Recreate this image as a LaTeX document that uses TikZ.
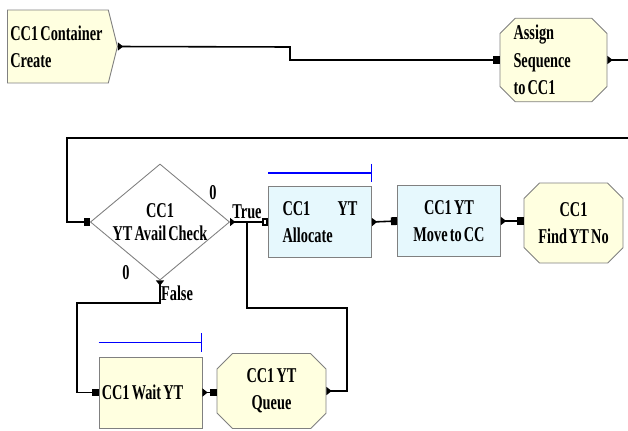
\documentclass[tikz,border=0pt]{standalone}
\usepackage{fontspec}
\setmainfont{Liberation Serif}[FakeStretch=0.68, WordSpace=0.6]
\usetikzlibrary{arrows.meta, shapes.geometric, shapes.misc, shapes.symbols}
\definecolor{boxyellow}{HTML}{FFFFE0}
\definecolor{boxblue}{HTML}{E6F8FD}
\definecolor{boxline}{HTML}{808080}

\begin{document}
\begin{tikzpicture}[x=0.02cm, y=-0.02cm,
    blk/.style={draw=boxline, line width=0.5pt, inner sep=1pt,
                font=\bfseries\fontsize{12}{15.5}\selectfont},
    actbox/.style={blk, rectangle, fill=boxblue,
                   minimum width=2.06cm, minimum height=1.42cm},
    octbox/.style={blk, chamfered rectangle, chamfered rectangle xsep=0.2cm,
                   fill=boxyellow},
    lbl/.style={font=\bfseries\fontsize{12}{13}\selectfont, inner sep=0pt},
    flow/.style={line width=0.9pt,
                 arrows={Triangle[reversed, length=3pt, width=4.5pt]-Square[length=3.5pt, width=4.5pt]}},
    plainflow/.style={line width=0.9pt},
    timebar/.style={blue, line width=0.8pt, arrows={-Bar[width=0.37cm]}}
  ]
  \useasboundingbox (0,0) rectangle (628,430);

  % blocks
  \node[blk, signal, signal to=east, signal pointer angle=152, fill=boxyellow,
        minimum width=2.2cm, minimum height=1.46cm, text width=1.9cm,
        align=flush left, anchor=west] (create) at (7,46.5) {CC1 Container\\Create};
  \node[octbox, minimum width=2.14cm, minimum height=1.6cm, text width=1.6cm,
        align=flush left] (assign) at (553.5,60) {Assign\\Sequence\\to CC1};
  \node[blk, diamond, aspect=1.2, fill=white, inner sep=0pt, align=center,
        minimum width=2.68cm, minimum height=2.24cm,
        font=\bfseries\fontsize{12}{13}\selectfont] (check) at (160,222)
        {CC1\\YT Avail Check};
  \node[actbox, text width=1.5cm, align=flush left] (allocate) at (320,222)
        {\makebox[1.5cm]{CC1\hfill YT}\\Allocate};
  \node[actbox, align=center] (move) at (449,221) {CC1 YT\\Move to CC};
  \node[octbox, minimum width=1.98cm, minimum height=1.6cm, align=center]
        (find) at (573.5,223) {CC1\\Find YT No};
  \node[blk, rectangle, fill=boxyellow, minimum width=2.06cm, minimum height=1.42cm,
        text width=1.95cm, align=flush left] (wait) at (150.5,392.5) {CC1 Wait YT};
  \node[octbox, minimum width=2.18cm, minimum height=1.5cm, align=center]
        (queue) at (271.5,391) {CC1 YT\\Queue};

  % branch labels
  \node[lbl] (zeroT) at (213,193) {0};
  \node[lbl] (truelbl) at (247,212) {True};
  \node[lbl] (zeroF) at (126,273) {0};
  \node[lbl] (falselbl) at (177,293) {False};

  % bend points and loose ends
  \coordinate (k1) at (290,47);
  \coordinate (outA) at (628,60);
  \coordinate (inB) at (628,138);
  \coordinate (loopB) at (67,138);
  \coordinate (f1) at (77,303);
  \coordinate (q1) at (347,308);
  \coordinate (q2) at (247,308);

  % connectors
  \draw[flow] (create.east) -- (k1) |- (assign.west);
  \draw[plainflow, arrows={Triangle[reversed, length=3pt, width=4.5pt]-}] (assign.east) -- (outA);
  \draw[line width=1.1pt, arrows={-Square[length=3.5pt, width=4.5pt]}] (inB) -- (loopB) |- (check.west);
  \draw[flow, arrows={Triangle[reversed, length=3pt, width=4.5pt]-Square[open, fill=white, length=3.5pt, width=4.5pt]}]
        (check.east) -- (allocate.west);
  \draw[flow] (check.south) |- (f1) |- (wait.west);
  \draw[flow] (allocate.east) -- (move.west);
  \draw[flow] (move.east) -- (move.east -| find.west);
  \draw[flow] (wait.east) -- (wait.east -| queue.west);
  \draw[plainflow, arrows={Triangle[reversed, length=3pt, width=4.5pt]-}]
        (queue.east) -| (q1) -- (q2) -- (q2 |- allocate.west);

  % time bars
  \draw[timebar] ([yshift=0.26cm]allocate.north west) -- ([yshift=0.26cm]allocate.north east);
  \draw[timebar] ([yshift=0.28cm]wait.north west) -- ([yshift=0.28cm]wait.north east);
\end{tikzpicture}
\end{document}
